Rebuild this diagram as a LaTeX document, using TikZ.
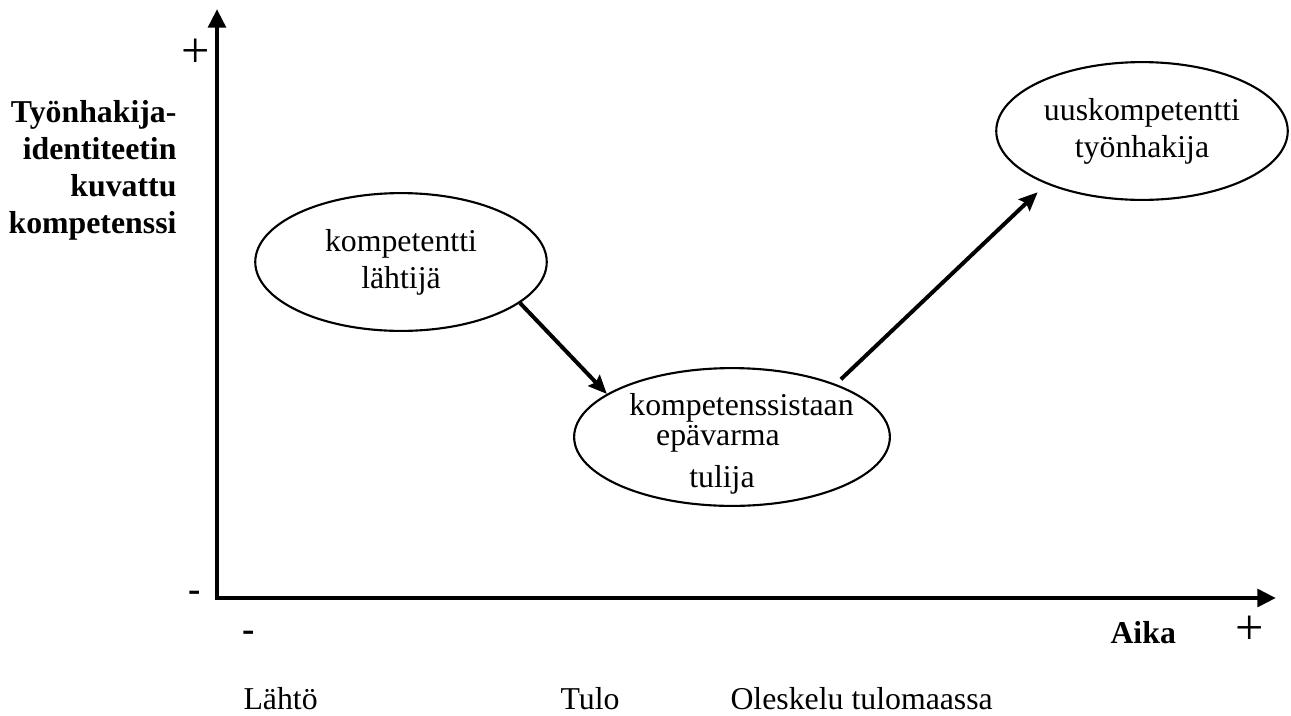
\documentclass[tikz,border=0pt]{standalone}
\usepackage{fontspec}
\setmainfont{Liberation Serif}
\usetikzlibrary{arrows.meta,shapes.geometric}

\tikzset{
  blob/.style={draw, ellipse, line width=0.8pt, inner sep=0pt,
    minimum width=110pt, minimum height=52pt, align=center,
    font=\fontsize{12}{14}\selectfont},
  axis/.style={line width=1.8pt,
    {Triangle[length=7pt,width=6.5pt]}-{Triangle[length=7pt,width=6.5pt]}},
  flow/.style={line width=1.5pt, -{Stealth[length=7pt,width=6pt,inset=1pt]}},
  txt/.style={inner sep=0pt, anchor=base west, font=\fontsize{12}{14}\selectfont},
  pluslbl/.style={inner sep=0pt, anchor=base, font=\fontsize{19}{21}\selectfont},
  minuslbl/.style={inner sep=0pt, anchor=base, font=\bfseries\fontsize{14}{16}\selectfont}
}

\begin{document}
\begin{tikzpicture}[x=0.37736pt, y=-0.37736pt]
    \useasboundingbox (0,0) rectangle (1291,715);

    % axes
    \coordinate (origin) at (217,598);
    \coordinate (ytop) at (217,9);
    \coordinate (xend) at (1276,598);
    \draw[axis] (ytop) -- (origin) -- (xend);

    \node (yplus) at (196,67) [pluslbl] {+};
    \node (yminus) at (195,601) [minuslbl] {-};
    \node (xminus) at (249,641) [minuslbl] {-};
    \node (xplus) at (1250,644) [pluslbl] {+};

    \node (ylabel) at (177,100) [anchor=north east, align=right, inner sep=0pt,
      font=\bfseries\fontsize{12}{14}\selectfont]
      {Työnhakija-\\identiteetin\\kuvattu\\kompetenssi};
    \node (aika) at (1110,643) [txt, font=\bfseries\fontsize{12}{14}\selectfont] {Aika};

    \node (lahto) at (243,709) [txt] {Lähtö};
    \node (tulo) at (560,709) [txt] {Tulo};
    \node (oleskelu) at (730,709) [txt] {Oleskelu tulomaassa};

    % phases
    \node (lahtija) at (401,262) [blob] {kompetentti\\lähtijä};
    \node (tulija) at (732,437) [blob, align=left, inner ysep=-3.5pt, inner xsep=-3.8pt]
      {\rule{0pt}{13.5pt}\hspace{7.2pt}kompetenssistaan\\[-2.7pt]
       \hspace{17.3pt}epävarma\\[2.2pt]\hspace{29.8pt}tulija};
    \node (uusi) at (1142,131) [blob] {uuskompetentti\\työnhakija};

    \draw[flow] (lahtija.-19) -- (tulija.161);
    \draw[flow, shorten <=2.6pt, shorten >=4.5pt] (tulija.27) -- (uusi.209);
\end{tikzpicture}
\end{document}
